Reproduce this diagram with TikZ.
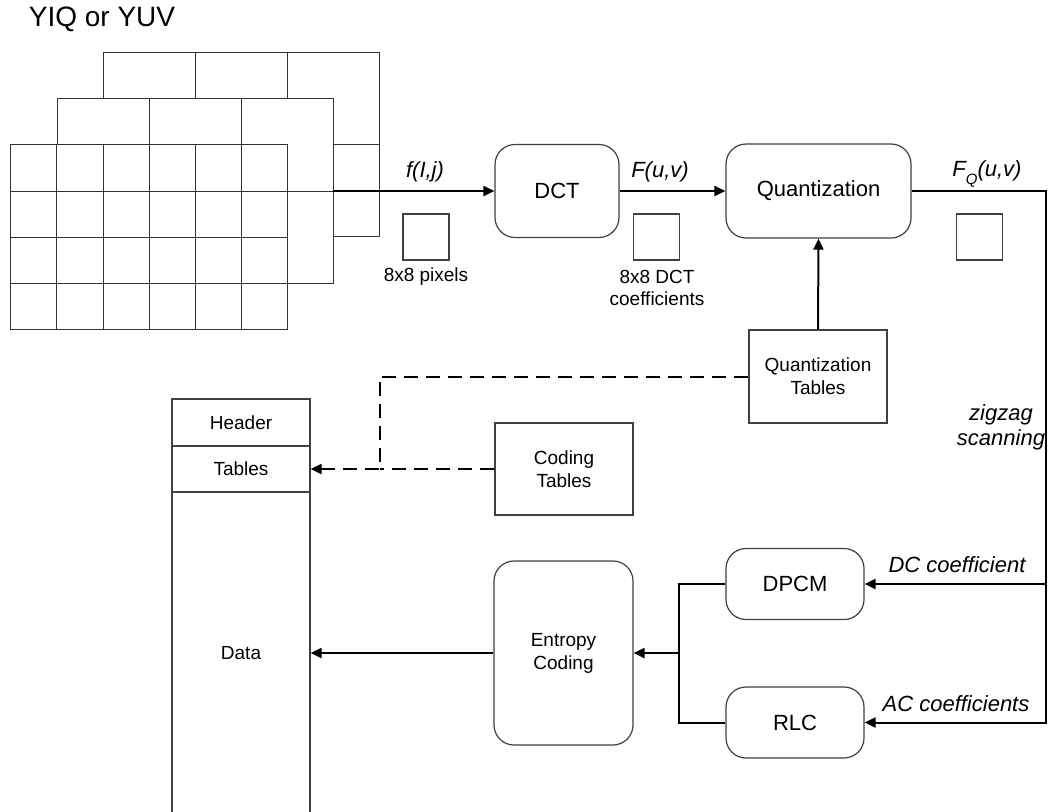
\documentclass[tikz,border=0pt]{standalone}
\usepackage{fontspec}
\setmainfont{Liberation Sans}
\usetikzlibrary{arrows.meta}
\begin{document}
\begin{tikzpicture}[x=1pt,y=-1pt,
  gridline/.style={draw=black!80, line width=1pt},
  layer/.style={draw=black!80, line width=1pt, fill=white},
  rbox/.style={draw=black!75, line width=1.2pt, rounded corners=20pt, fill=white, align=center, inner sep=0pt},
  sbox/.style={draw=black!75, line width=1.2pt, fill=white, align=center, inner sep=0pt},
  conn/.style={draw=black, line width=2pt, -{Triangle[length=11pt,width=10pt]}},
  plain/.style={draw=black, line width=2pt},
  dashline/.style={draw=black, line width=2pt, dash pattern=on 14pt off 8pt},
  fbig/.style={font=\fontsize{22pt}{26pt}\selectfont},
  fmid/.style={font=\fontsize{19pt}{23pt}\selectfont},
  fital/.style={font=\fontsize{22pt}{25pt}\selectfont\itshape},
]
\useasboundingbox (0,0) rectangle (1048,811);

% title
\node[font=\fontsize{28pt}{32pt}\selectfont] (title) at (102,19) {YIQ or YUV};

% back layer 3x2 cells of 92
\draw[layer] (103,52) rectangle (379,236);
\foreach \x in {195,287} \draw[gridline] (\x,52) -- (\x,236);
\draw[gridline] (103,144) -- (379,144);
% middle layer
\draw[layer] (57,98) rectangle (333,283);
\foreach \x in {149,241} \draw[gridline] (\x,98) -- (\x,283);
\draw[gridline] (57,191) -- (333,191);
% front layer 6x4 cells of 46
\draw[layer] (10,144) rectangle (287,329);
\foreach \x in {56,103,149,195,241} \draw[gridline] (\x,144) -- (\x,329);
\foreach \y in {191,237,283} \draw[gridline] (10,\y) -- (287,\y);

\coordinate (gout) at (333,191);

% main boxes
\node[rbox, fbig, minimum width=124pt, minimum height=93pt] (dct) at (557,191) {DCT};
\node[rbox, fbig, minimum width=185pt, minimum height=94pt] (quant) at (818.5,191) {Quantization};
\node[sbox, fmid, minimum width=138pt, minimum height=93pt] (qt) at (818,376.5) {Quantization\\Tables};
\node[sbox, fmid, minimum width=138pt, minimum height=92pt] (ct) at (564,469) {Coding\\Tables};
\node[rbox, fmid, minimum width=139pt, minimum height=184pt] (ent) at (563.5,653) {Entropy\\Coding};
\node[rbox, fbig, minimum width=138pt, minimum height=71pt] (dpcm) at (795,584) {DPCM};
\node[rbox, fbig, minimum width=138pt, minimum height=71pt] (rlc) at (795,722.5) {RLC};

% file stack
\node[sbox, fmid, minimum width=138pt, minimum height=47pt] (hdr) at (241,422.5) {Header};
\node[sbox, fmid, minimum width=138pt, minimum height=46pt] (tab) at (241,469) {Tables};
\node[sbox, fmid, minimum width=138pt, minimum height=322pt] (data) at (241,653) {Data};

% small squares
\node[sbox, minimum width=46pt, minimum height=46pt] (sq1) at (426,237) {};
\node[sbox, minimum width=46pt, minimum height=46pt] (sq2) at (656.5,237) {};
\node[sbox, minimum width=46pt, minimum height=46pt] (sq3) at (979.5,237) {};
\node[fmid, inner sep=0pt] (l1) at (426,277) {8x8 pixels};
\node[fmid, inner sep=0pt, align=center, font=\fontsize{19pt}{22pt}\selectfont] (l2) at (657,288) {8x8 DCT\\coefficients};

% labels
\node[fital, inner sep=0pt] (lf) at (425,172) {f(I,j)};
\node[fital, inner sep=0pt] (lF) at (660,172) {F(u,v)};
\node[fital, inner sep=0pt] (lFQ) at (987,174) {F\raisebox{-0.35em}{\fontsize{15pt}{15pt}\selectfont Q}(u,v)};
\node[fital, inner sep=0pt, align=center] (lzz) at (1001,427) {zigzag\\scanning};
\node[fital, inner sep=0pt] (ldc) at (957,565) {DC coefficient};
\node[fital, inner sep=0pt] (lac) at (956,704) {AC coefficients};

% connectors
\coordinate (c1) at (1046,191);
\coordinate (c2) at (1046,584);
\coordinate (c3) at (1046,722.5);
\coordinate (jn) at (679,653);
\coordinate (dj) at (380,376.5);

\draw[conn] (gout) -- (dct.west);
\draw[conn] (dct.east) -- (quant.west);
\draw[conn] (quant.east) -| (c3) -- (rlc.east);
\draw[conn] (c2) -- (dpcm.east);
\draw[plain] (dpcm.west) -| (jn) |- (rlc.west);
\draw[conn] (jn) -- (ent.east);
\draw[conn] (ent.west) -- (ent.west -| data.east);
\draw[conn] (qt.north) -- (quant.south);
\draw[dashline, -{Triangle[length=11pt,width=10pt]}] (qt.west) -- (dj) |- (tab.east);
\draw[dashline] (ct.west) -- (ct.west -| dj);
\end{tikzpicture}
\end{document}
